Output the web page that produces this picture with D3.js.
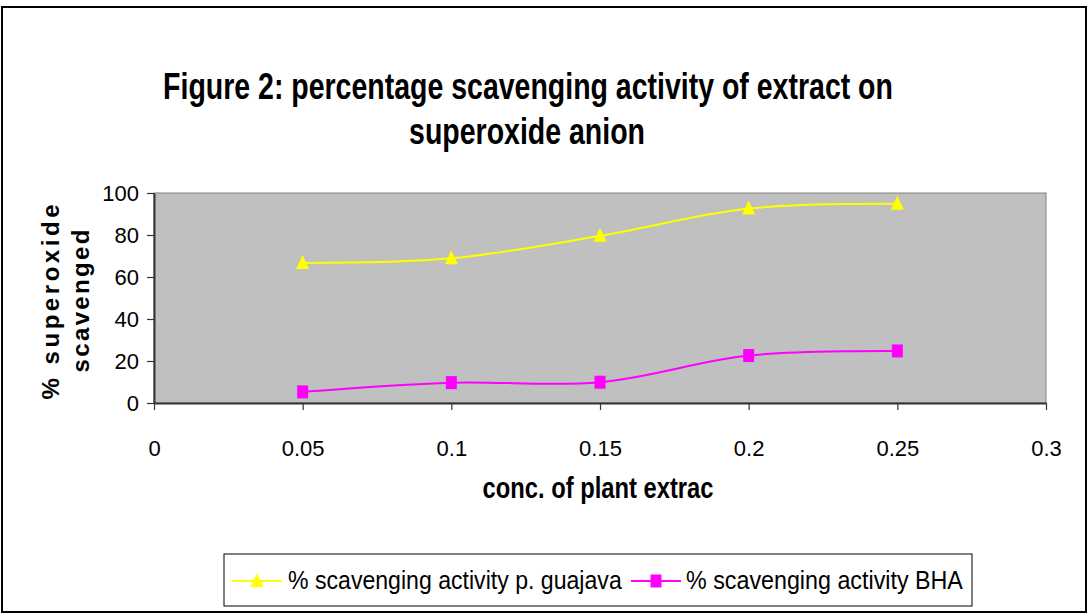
<!DOCTYPE html>
<html>
<head>
<meta charset="utf-8">
<script src="https://cdn.jsdelivr.net/npm/d3@7"></script>
<style>
  html, body { margin: 0; padding: 0; background: #fff; }
  svg { display: block; }
  text { font-family: "Liberation Sans", Arial, sans-serif; fill: #000; }
</style>
</head>
<body>
<svg id="chart" width="1088" height="616"></svg>
<script>
// ---- data ----
const concentrations = [0.05, 0.1, 0.15, 0.2, 0.25];
const guajavaValues = [66.7, 68.9, 79.6, 92.6, 94.9];
const bhaValues = [5.3, 9.7, 9.9, 22.6, 24.8];
const xTicks = [0, 0.05, 0.1, 0.15, 0.2, 0.25, 0.3];
const yTicks = [0, 20, 40, 60, 80, 100];
const seriesNames = ["% scavenging activity p. guajava", "% scavenging activity BHA"];
const titleLines = ["Figure 2: percentage scavenging activity of extract on", "superoxide anion"];
const xTitle = "conc. of plant extrac";
const yTitleLines = ["% superoxide", "scavenged"];

// ---- layout ----
const svg = d3.select("#chart");
const plot = { left: 154, right: 1046, top: 193, bottom: 403 };

// horizontally compress a text (anchored at x,y) to a target width
function squeeze(sel, cx, cy, width) {
  sel.each(function () {
    const w = this.getComputedTextLength();
    const s = width / w;
    d3.select(this).attr("x", 0).attr("y", 0)
      .attr("transform", `translate(${cx},${cy}) scale(${s},1)`);
  });
}

// outer frame
svg.append("rect").attr("x", 2).attr("y", 7).attr("width", 1084).attr("height", 605)
  .attr("fill", "#fff").attr("stroke", "#000").attr("stroke-width", 2);

const x = d3.scaleLinear().domain([0, 0.3]).range([plot.left, plot.right]);
const y = d3.scaleLinear().domain([0, 100]).range([plot.bottom, plot.top]);

// plot background
svg.append("rect").attr("x", plot.left).attr("y", plot.top)
  .attr("width", plot.right - plot.left).attr("height", plot.bottom - plot.top)
  .attr("fill", "#C0C0C0").attr("stroke", "#808080").attr("stroke-width", 1);

// axes
const xAxis = d3.axisBottom(x).tickValues(xTicks).tickSize(7).tickSizeOuter(0)
  .tickFormat(d => String(d));
const gx = svg.append("g").attr("transform", `translate(0,${plot.bottom})`).call(xAxis);
gx.select(".domain").attr("stroke", "#333").attr("stroke-width", 2);
gx.selectAll(".tick line").attr("stroke", "#333").attr("stroke-width", 1.2);
gx.selectAll(".tick text").attr("font-size", 22).attr("y", 0).attr("dy", 0)
  .attr("transform", "translate(0,53)").style("font-family", '"Liberation Sans", Arial, sans-serif').attr("fill", "#000");

const yAxis = d3.axisLeft(y).tickValues(yTicks).tickSize(7).tickSizeOuter(0);
const gy = svg.append("g").attr("transform", `translate(${plot.left},0)`).call(yAxis);
gy.select(".domain").attr("stroke", "#333").attr("stroke-width", 2);
gy.selectAll(".tick line").attr("stroke", "#333").attr("stroke-width", 1.2);
gy.selectAll(".tick text").attr("font-size", 22).attr("x", -15).attr("dy", "0.36em")
  .style("font-family", '"Liberation Sans", Arial, sans-serif').attr("fill", "#000");

// lines
const curve = d3.curveCardinal.tension(0);
const line = d3.line().x((d, i) => x(concentrations[i])).y(d => y(d)).curve(curve);

svg.append("path").datum(guajavaValues).attr("d", line)
  .attr("fill", "none").attr("stroke", "#FFFF00").attr("stroke-width", 2);
svg.append("path").datum(bhaValues).attr("d", line)
  .attr("fill", "none").attr("stroke", "#FF00FF").attr("stroke-width", 2);

const triPath = (cx, cy) => `M${cx},${cy - 8}L${cx + 6.5},${cy + 6}L${cx - 6.5},${cy + 6}Z`;
const sqPath = (cx, cy) => `M${cx - 5.5},${cy - 6.5}h11v13h-11Z`;

svg.append("g").selectAll("path").data(guajavaValues).join("path")
  .attr("d", (d, i) => triPath(x(concentrations[i]), y(d))).attr("fill", "#FFFF00");
svg.append("g").selectAll("path").data(bhaValues).join("path")
  .attr("d", (d, i) => sqPath(x(concentrations[i]), y(d))).attr("fill", "#FF00FF");

// title
svg.append("text").attr("text-anchor", "middle")
  .attr("font-size", 37).attr("font-weight", "bold").text(titleLines[0])
  .call(squeeze, 528, 99, 730);
svg.append("text").attr("text-anchor", "middle")
  .attr("font-size", 37).attr("font-weight", "bold").text(titleLines[1])
  .call(squeeze, 527, 144, 236);

// x axis title
svg.append("text").attr("text-anchor", "middle")
  .attr("font-size", 29).attr("font-weight", "bold").text(xTitle)
  .call(squeeze, 598, 498, 231);

// y axis title (rotated, spaced out)
svg.append("text").attr("transform", "translate(59,302) rotate(-90)").attr("text-anchor", "middle")
  .attr("font-size", 24).attr("font-weight", "bold")
  .attr("textLength", 195).attr("lengthAdjust", "spacing").text(yTitleLines[0]);
svg.append("text").attr("transform", "translate(89,301) rotate(-90)").attr("text-anchor", "middle")
  .attr("font-size", 24).attr("font-weight", "bold")
  .attr("textLength", 143).attr("lengthAdjust", "spacing").text(yTitleLines[1]);

// legend
svg.append("rect").attr("x", 224).attr("y", 554).attr("width", 748).attr("height", 52)
  .attr("fill", "#fff").attr("stroke", "#000").attr("stroke-width", 1);
const legendItems = [
  { name: seriesNames[0], color: "#FFFF00", x0: 232, tx: 288, tl: 334, marker: triPath },
  { name: seriesNames[1], color: "#FF00FF", x0: 631, tx: 686, tl: 277, marker: sqPath }
];
const lg = svg.append("g").selectAll("g").data(legendItems).join("g");
lg.append("line").attr("x1", d => d.x0).attr("x2", d => d.x0 + 50)
  .attr("y1", 581).attr("y2", 581).attr("stroke", d => d.color).attr("stroke-width", 2);
lg.append("path").attr("d", d => d.marker(d.x0 + 25, 581)).attr("fill", d => d.color);
lg.append("text").attr("font-size", 26).text(d => d.name)
  .each(function (d) { d3.select(this).call(squeeze, d.tx, 589, d.tl); });
</script>
</body>
</html>
